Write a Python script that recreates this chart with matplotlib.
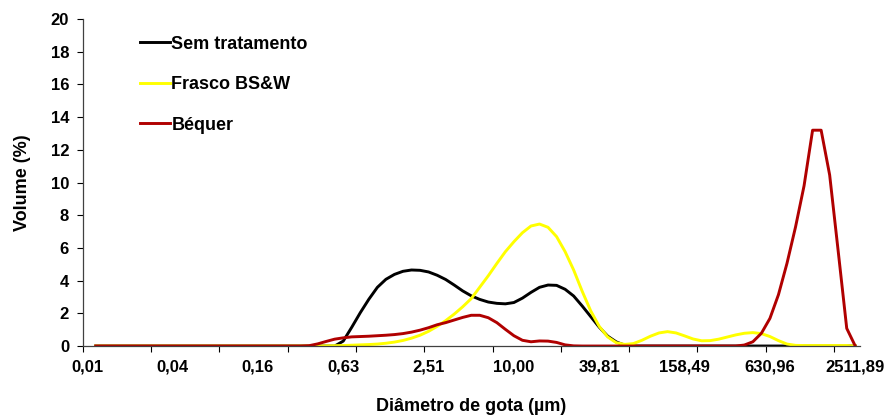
import numpy as np
import matplotlib
matplotlib.use("Agg")
import matplotlib.pyplot as plt

nan = np.nan

# x tick labels (every 10th size class of the 91 classes, in µm)
size_labels = ["0,01", "0,04", "0,16", "0,63", "2,51", "10,00", "39,81",
               "158,49", "630,96", "2511,89"]

series_names = ["Sem tratamento", "Frasco BS&W", "Béquer"]

# Volume (%) per size class, class index 0..90
sem_tratamento = [
    nan, 0, 0, 0, 0, 0, 0, 0, 0, 0,
    0, 0, 0, 0, 0, 0, 0, 0, 0, 0,
    0, 0, 0, 0, 0, 0, 0, 0, 0, 0,
    0.3, 1.15, 2.04, 2.86, 3.59, 4.08, 4.38, 4.57, 4.65, 4.63,
    4.53, 4.33, 4.07, 3.73, 3.37, 3.07, 2.85, 2.69, 2.61, 2.58,
    2.66, 2.93, 3.28, 3.59, 3.73, 3.71, 3.47, 3.06, 2.45, 1.8,
    1.15, 0.6, 0.25, 0.05, 0, 0, 0, 0, 0, 0,
    0, 0, 0, 0, 0, 0, 0, 0, 0, 0,
    0, 0, 0, 0, 0, 0, 0, 0, 0, 0,
    0,
]

frasco_bsw = [
    nan, 0, 0, 0, 0, 0, 0, 0, 0, 0,
    0, 0, 0, 0, 0, 0, 0, 0, 0, 0,
    0, 0, 0, 0, 0, 0, 0, 0, 0.01, 0.02,
    0.03, 0.05, 0.07, 0.09, 0.12, 0.17, 0.24, 0.34, 0.48, 0.66,
    0.9, 1.2, 1.55, 1.95, 2.4, 2.9, 3.6, 4.3, 5.05, 5.77,
    6.38, 6.93, 7.34, 7.46, 7.26, 6.69, 5.77, 4.65, 3.35, 2.15,
    1.2, 0.55, 0.2, 0.1, 0.15, 0.35, 0.6, 0.8, 0.88, 0.8,
    0.62, 0.43, 0.32, 0.33, 0.42, 0.55, 0.68, 0.78, 0.82, 0.76,
    0.58, 0.33, 0.12, 0.04, 0.03, 0.03, 0.03, 0.03, 0.03, 0.03,
    0,
]

bequer = [
    nan, 0, 0, 0, 0, 0, 0, 0, 0, 0,
    0, 0, 0, 0, 0, 0, 0, 0, 0, 0,
    0, 0, 0, 0, 0, 0, 0.02, 0.13, 0.28, 0.42,
    0.5, 0.56, 0.58, 0.6, 0.63, 0.66, 0.7, 0.76, 0.85, 0.97,
    1.12, 1.3, 1.43, 1.59, 1.75, 1.88, 1.88, 1.73, 1.43, 1.02,
    0.63, 0.35, 0.26, 0.31, 0.3, 0.22, 0.07, 0.01, 0, 0,
    0, 0, 0, 0, 0, 0, 0, 0, 0, 0,
    0, 0, 0, 0, 0, 0, 0, 0.06, 0.26, 0.78,
    1.69, 3.14, 5.06, 7.28, 9.8, 13.2, 13.2, 10.46, 5.8, 1.08,
    0,
]

colors = ["#000000", "#FFFF00", "#B00000"]

plt.rcParams['font.family'] = ['Liberation Sans', 'DejaVu Sans']
plt.rcParams['font.weight'] = 'bold'

fig = plt.figure(figsize=(8.92, 4.18), dpi=100)
ax = fig.add_axes([0.093, 0.1722, 0.8706, 0.7823])

x = np.arange(len(sem_tratamento))
for vals, name, c in zip([sem_tratamento, frasco_bsw, bequer], series_names, colors):
    ax.plot(x, vals, color=c, lw=2.1, label=name, solid_joinstyle='round')

ax.set_xlim(-0.5, len(x) - 0.5)
ax.set_ylim(0, 20)
ax.set_yticks(np.arange(0, 21, 2))
ax.tick_params(axis='y', direction='out', length=4, width=0.8, pad=6,
               labelsize=12)

# tick marks every 8 classes (boundaries), labels every 10 classes
ax.set_xticks(np.arange(-0.5, len(x) - 1, 8))
ax.set_xticklabels([])
ax.tick_params(axis='x', which='major', direction='out', length=4, width=0.8)
ax.set_xticks(np.arange(0, len(x), 10), size_labels, minor=True)
ax.tick_params(axis='x', which='minor', length=0, pad=10, labelsize=12)

for s in ['top', 'right']:
    ax.spines[s].set_visible(False)
for s in ['left', 'bottom']:
    ax.spines[s].set_color('#404040')
    ax.spines[s].set_linewidth(0.9)

ax.set_ylabel("Volume (%)", fontsize=13, fontweight='bold', labelpad=14)
ax.set_xlabel("Diâmetro de gota (µm)", fontsize=13, fontweight='bold', labelpad=16.5)

leg = ax.legend(loc='upper left', bbox_to_anchor=(0.0734, 0.949), frameon=False,
                fontsize=13, handlelength=1.66, handletextpad=0.08,
                labelspacing=1.3, borderaxespad=0, borderpad=0)
for t in leg.get_texts():
    t.set_fontweight('bold')

fig.savefig("out.png", dpi=100)
